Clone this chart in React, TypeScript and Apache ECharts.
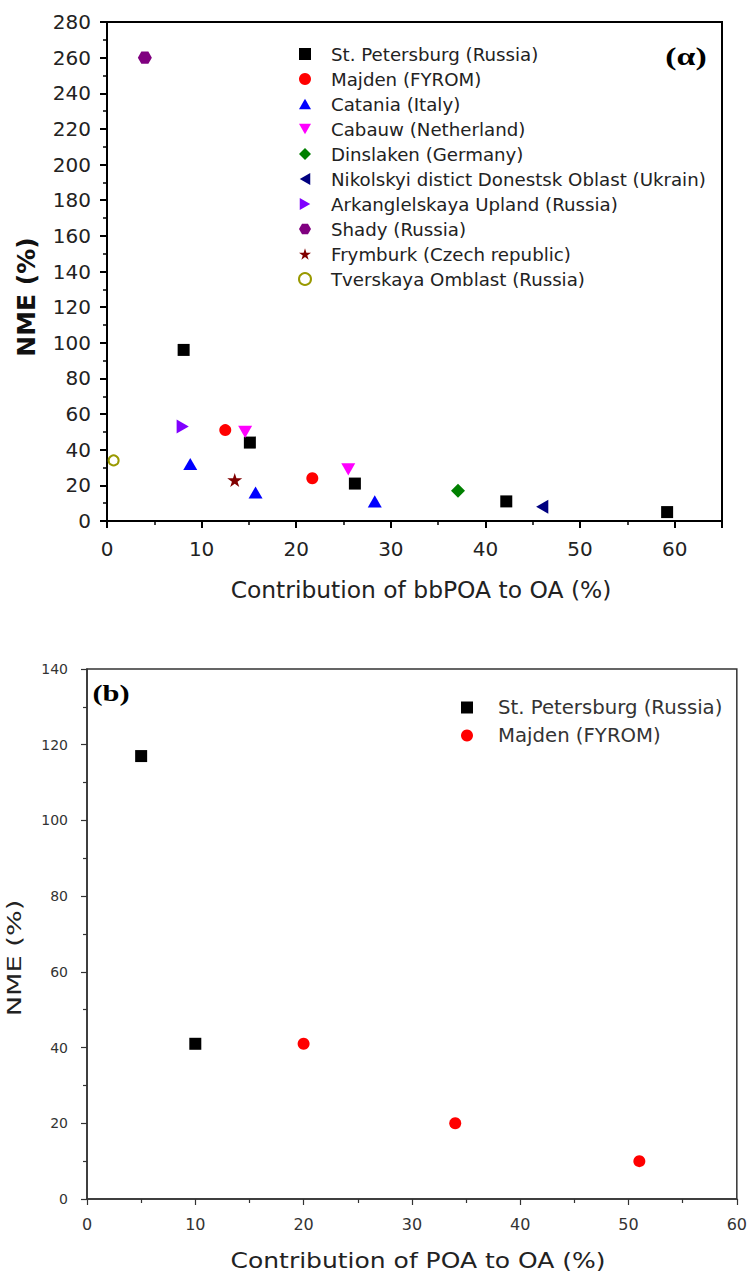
import React, { useEffect, useRef } from "react";
import * as echarts from "echarts";

// ---------- Data: panel (a) ----------
const stPetersburgA: number[][] = [[8.1, 96], [15.1, 44], [26.2, 21], [42.2, 11], [59.2, 5]];
const majdenA: number[][] = [[12.5, 51], [21.7, 24]];
const cataniaA: number[][] = [[8.8, 32], [15.7, 16], [28.3, 11]];
const cabauwA: number[][] = [[14.6, 50], [25.5, 29]];
const dinslakenA: number[][] = [[37.1, 17]];
const nikolskyiA: number[][] = [[46.0, 8]];
const arkanglelskayaA: number[][] = [[8.0, 53]];
const shadyA: number[][] = [[4.0, 260]];
const frymburkA: number[][] = [[13.5, 23]];
const tverskayaA: number[][] = [[0.7, 34]];

// ---------- Data: panel (b) ----------
const stPetersburgB: number[][] = [[5, 117], [10, 41]];
const majdenB: number[][] = [[20, 41], [34, 20], [51, 10]];

const namesA = [
  "St. Petersburg (Russia)",
  "Majden (FYROM)",
  "Catania (Italy)",
  "Cabauw (Netherland)",
  "Dinslaken (Germany)",
  "Nikolskyi distict Donestsk Oblast (Ukrain)",
  "Arkanglelskaya Upland (Russia)",
  "Shady (Russia)",
  "Frymburk (Czech republic)",
  "Tverskaya Omblast (Russia)",
];
const namesB = ["St. Petersburg (Russia)", "Majden (FYROM)"];

const xTitleA = "Contribution of bbPOA to OA (%)";
const xTitleB = "Contribution of POA to OA (%)";
const yTitle = "NME (%)";

const HEX = "path://M0,43 L25,0 L75,0 L100,43 L75,86 L25,86 Z";
const STAR = "path://M50,0 L61,35 L98,35 L68,57 L79,91 L50,70 L21,91 L32,57 L2,35 L39,35 Z";
const TRI_UP = "path://M50,0 L100,87 L0,87 Z";
const TRI_DOWN = "path://M0,0 L100,0 L50,87 Z";
const TRI_LEFT = "path://M87,0 L87,100 L0,50 Z";
const TRI_RIGHT = "path://M0,0 L87,50 L0,100 Z";

const SANS = "DejaVu Sans";

// marker styles per series (panel a)
const symbolsA = ["rect", "circle", TRI_UP, TRI_DOWN, "diamond", TRI_LEFT, TRI_RIGHT, HEX, STAR, "emptyCircle"];
const sizesA = [12, 12, 14, 14, 14, 14, 14, 14, 15, 10];
const colorsA = ["#000000", "#ff0000", "#0000ff", "#ff00ff", "#008000", "#000080", "#8000ff", "#800080", "#800000", "#999900"];
const dataA = [
  stPetersburgA, majdenA, cataniaA, cabauwA, dinslakenA,
  nikolskyiA, arkanglelskayaA, shadyA, frymburkA, tverskayaA,
];

function sc(name: string, data: number[][], symbol: string, size: number, color: string, idx: number) {
  return {
    type: "scatter",
    name,
    data,
    symbol,
    symbolSize: size,
    symbolKeepAspect: true,
    xAxisIndex: idx,
    yAxisIndex: idx,
    itemStyle: { color, opacity: 1 },
    z: 5,
  };
}

export default function App() {
  const ref = useRef<HTMLDivElement>(null);
  useEffect(() => {
    if (!ref.current) return;
    const chart = echarts.init(ref.current, null, { renderer: "svg" });

    const axisA = {
      axisLine: { lineStyle: { color: "#000", width: 2 } },
      axisTick: { length: 7, lineStyle: { color: "#000", width: 2 } },
      minorTick: { show: true, splitNumber: 2, length: 4, lineStyle: { color: "#000", width: 1.5 } },
      splitLine: { show: false },
    };
    const axisB = {
      axisLine: { lineStyle: { color: "#333", width: 1.5 } },
      axisTick: { length: 6, lineStyle: { color: "#333", width: 1.2 } },
      minorTick: { show: true, splitNumber: 2, length: 4, lineStyle: { color: "#333", width: 1.2 } },
      splitLine: { show: false },
    };

    const option: any = {
      animation: false,
      backgroundColor: "#fff",
      grid: [
        { left: 107, top: 22, right: 28, bottom: 753, show: true, borderColor: "#000", borderWidth: 2, backgroundColor: "transparent" },
        { left: 87, top: 669, right: 9, bottom: 75, show: true, borderColor: "#333", borderWidth: 1.5, backgroundColor: "transparent" },
      ],
      xAxis: [
        {
          type: "value", gridIndex: 0, min: 0, max: 65, interval: 10,
          ...axisA,
          axisLabel: {
            margin: 18, fontFamily: SANS, fontSize: 20, color: "#222",
            formatter: (v: number) => (v % 10 === 0 ? String(v) : ""),
          },
        },
        {
          type: "value", gridIndex: 1, min: 0, max: 60, interval: 10,
          ...axisB,
          axisLabel: { margin: 17, fontFamily: SANS, fontSize: 16, color: "#333" },
        },
      ],
      yAxis: [
        {
          type: "value", gridIndex: 0, min: 0, max: 280, interval: 20,
          ...axisA,
          axisLabel: { margin: 16, fontFamily: SANS, fontSize: 20, color: "#222" },
        },
        {
          type: "value", gridIndex: 1, min: 0, max: 140, interval: 20,
          ...axisB,
          axisLabel: { margin: 19, fontFamily: SANS, fontSize: 14, color: "#333" },
        },
      ],
      legend: [
        {
          data: namesA.map((n, i) => ({ name: n, icon: symbolsA[i] })),
          orient: "vertical",
          left: 293,
          top: 39,
          itemWidth: 12,
          itemHeight: 12,
          itemGap: 5,
          textStyle: { fontFamily: SANS, fontSize: 18.2, lineHeight: 20, color: "#222", padding: [0, 0, 0, 15] },
          selectedMode: false,
        },
        {
          data: namesB,
          orient: "vertical",
          left: 456,
          top: 692,
          itemWidth: 12,
          itemHeight: 12,
          itemGap: 7,
          textStyle: { fontFamily: SANS, fontSize: 19.7, lineHeight: 21, color: "#333", padding: [0, 0, 0, 20] },
          selectedMode: false,
        },
      ],
      series: [
        ...namesA.map((n, i) => sc(n, dataA[i], symbolsA[i], sizesA[i], colorsA[i], 0)),
        sc(namesB[0], stPetersburgB, "rect", 12, "#000000", 1),
        sc(namesB[1], majdenB, "circle", 12, "#ff0000", 1),
      ],
      graphic: [
        {
          type: "text", x: 421, y: 590,
          style: { text: xTitleA, fontFamily: SANS, fontSize: 23.4, fill: "#222", align: "center", verticalAlign: "middle" },
        },
        {
          type: "text", x: 26, y: 297, rotation: Math.PI / 2,
          style: { text: yTitle, fontFamily: SANS, fontWeight: "bold", fontSize: 25, fill: "#111", align: "center", verticalAlign: "middle" },
        },
        {
          type: "text", x: 418, y: 1261, scaleX: 1.19,
          style: { text: xTitleB, fontFamily: SANS, fontSize: 21, fill: "#222", align: "center", verticalAlign: "middle" },
        },
        {
          type: "text", x: 14, y: 958, rotation: Math.PI / 2, scaleX: 1.36,
          style: { text: yTitle, fontFamily: SANS, fontSize: 20, fill: "#222", align: "center", verticalAlign: "middle" },
        },
        {
          type: "text", x: 686, y: 57, scaleX: 1.35,
          style: { text: "(α)", fontFamily: "Liberation Serif", fontWeight: "bold", fontSize: 25, fill: "#000", align: "center", verticalAlign: "middle" },
        },
        {
          type: "text", x: 111, y: 693, scaleX: 1.27,
          style: { text: "(b)", fontFamily: "Liberation Serif", fontWeight: "bold", fontSize: 24, fill: "#000", align: "center", verticalAlign: "middle" },
        },
      ],
    };
    chart.setOption(option);
    return () => chart.dispose();
  }, []);
  return (
    <div
      ref={ref}
      style={{ position: "absolute", left: 0, top: 0, width: 750, height: 1274, background: "#fff" }}
    />
  );
}
